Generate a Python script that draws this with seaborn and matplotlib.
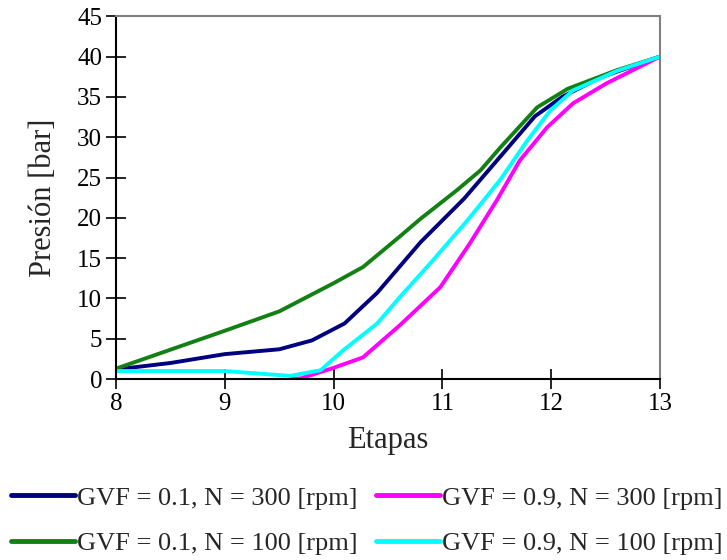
import matplotlib
matplotlib.use("Agg")
import matplotlib.pyplot as plt
import seaborn as sns

x_g01_n300 = [8, 8.5, 9, 9.5, 9.8, 10.1, 10.4, 10.8, 11.2, 11.5, 11.85, 12.1, 12.45, 13]
y_g01_n300 = [1.2, 2.0, 3.1, 3.7, 4.8, 6.9, 10.7, 17.0, 22.4, 27.1, 32.6, 35.0, 37.4, 40]

x_g01_n100 = [8, 9, 9.5, 10.0, 10.27, 10.6, 10.8, 11.13, 11.35, 11.53, 11.87, 12.15, 12.6, 13]
y_g01_n100 = [1.3, 6.0, 8.4, 11.9, 13.9, 17.6, 19.9, 23.4, 25.9, 28.7, 33.7, 36.0, 38.3, 40]

x_g09_n300 = [9.6, 9.7, 10.0, 10.27, 10.61, 10.98, 11.25, 11.5, 11.71, 11.96, 12.2, 12.51, 13]
y_g09_n300 = [0.0, 0.1, 1.4, 2.7, 6.7, 11.4, 16.8, 22.2, 27.1, 31.2, 34.2, 36.7, 40]

x_g09_n100 = [8, 9.0, 9.3, 9.6, 9.88, 10.09, 10.4, 10.61, 10.91, 11.23, 11.53, 11.78, 11.99, 12.2, 12.6, 13]
y_g09_n100 = [1.0, 1.0, 0.7, 0.4, 1.1, 3.6, 6.9, 10.2, 14.7, 19.7, 24.7, 29.6, 33.3, 35.8, 38.2, 40]

labels = ["GVF = 0.1, N = 300 [rpm]", "GVF = 0.1, N = 100 [rpm]",
          "GVF = 0.9, N = 300 [rpm]", "GVF = 0.9, N = 100 [rpm]"]
colors = ["#000080", "#138013", "#ff00ff", "#00ffff"]

sns.set_style("ticks")
plt.rcParams["font.family"] = ["Liberation Serif", "DejaVu Serif"]

fig = plt.figure(figsize=(7.27, 5.6), dpi=100)
ax = fig.add_axes([0.1596, 0.323, 0.7484, 0.648])

series = [(x_g01_n300, y_g01_n300), (x_g01_n100, y_g01_n100),
          (x_g09_n300, y_g09_n300), (x_g09_n100, y_g09_n100)]
for (xs, ys), lab, c in zip(series, labels, colors):
    sns.lineplot(x=xs, y=ys, color=c, lw=2.8, label=lab, sort=False, ax=ax)

ax.set_xlim(8, 13)
ax.set_ylim(0, 45)
ax.set_xticks(range(8, 14))
ax.set_yticks(range(0, 46, 5))
ax.tick_params(direction="inout", length=14, width=1.2, labelsize=18, pad=3,
               colors="black")
for side in ("top", "right"):
    ax.spines[side].set_visible(True)
    ax.spines[side].set_color("#808080")
    ax.spines[side].set_linewidth(1.5)
for side in ("left", "bottom"):
    ax.spines[side].set_color("black")
    ax.spines[side].set_linewidth(1.5)

ax.set_xlabel("Etapas", fontsize=22, labelpad=8)
ax.set_ylabel("Presión [bar]", fontsize=22, labelpad=14)

handles, labs = ax.get_legend_handles_labels()
ax.get_legend().remove()
leg = fig.legend(handles, labs, loc="center", bbox_to_anchor=(0.505, 0.07),
                 ncol=2, frameon=False, fontsize=19, handlelength=2.4,
                 handletextpad=0.1, columnspacing=0.7, labelspacing=0.85)
for h in leg.get_lines():
    h.set_linewidth(3.5)

fig.savefig("out.png", dpi=100)
